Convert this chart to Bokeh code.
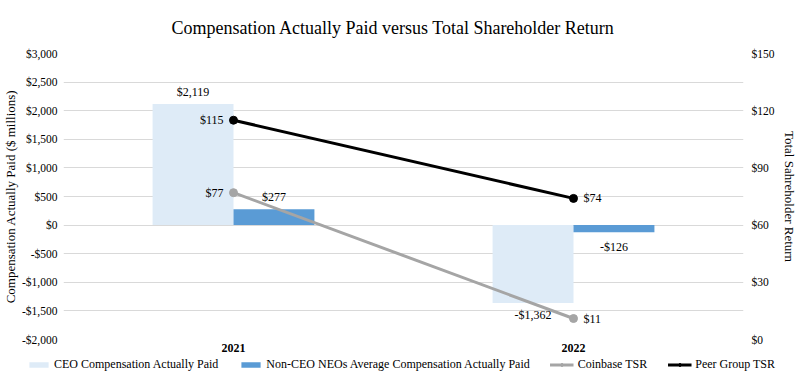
from bokeh.plotting import figure
from bokeh.layouts import column
from bokeh.models import (ColumnDataSource, FactorRange, Range1d, LinearAxis,
                          Legend, LegendItem, FixedTicker)
from bokeh.transform import dodge
from bokeh.core.properties import value
from bokeh.embed import file_html
from bokeh.resources import INLINE

# ---------------- data ----------------
years = ["2021", "2022"]
ceo_cap = [2119, -1362]          # CEO Compensation Actually Paid
neo_cap = [277, -126]            # Non-CEO NEOs Average Compensation Actually Paid
coinbase_tsr = [77, 11]          # Coinbase TSR
peer_tsr = [115, 74]             # Peer Group TSR

left_ticks = list(range(-2000, 3001, 500))
right_ticks = list(range(0, 151, 30))

FONT = "Liberation Serif"
CEO_COLOR = "#DEEBF7"
NEO_COLOR = "#5A9BD5"
CB_COLOR = "#A5A5A5"
PEER_COLOR = "#000000"


def money(v):
    return ("-$" if v < 0 else "$") + f"{abs(v):,}"


src = ColumnDataSource(dict(
    year=years,
    ceo=ceo_cap,
    neo=neo_cap,
    cb=coinbase_tsr,
    peer=peer_tsr,
    ceo_lbl=[money(v) for v in ceo_cap],
    neo_lbl=[money(v) for v in neo_cap],
    cb_lbl=[money(v) for v in coinbase_tsr],
    peer_lbl=[money(v) for v in peer_tsr],
    ceo_base=["bottom" if v >= 0 else "top" for v in ceo_cap],
    neo_base=["bottom" if v >= 0 else "top" for v in neo_cap],
    ceo_off=[-5 if v >= 0 else 5 for v in ceo_cap],
    neo_off=[-5 if v >= 0 else 8 for v in neo_cap],
    pt_align=["right" if i == 0 else "left" for i in range(len(years))],
    pt_off=[-10 if i == 0 else 10 for i in range(len(years))],
))

p = figure(
    width=801, height=357,
    x_range=FactorRange(*years, range_padding=0),
    y_range=Range1d(-2000, 3000),
    output_backend="svg", toolbar_location=None,
    min_border_left=63, min_border_right=58, min_border_top=53, min_border_bottom=18,
)
p.frame_align = False
p.extra_y_ranges = {"tsr": Range1d(0, 150)}

# title
p.title.text = "Compensation Actually Paid versus Total Shareholder Return"
p.title.text_font = FONT
p.title.text_font_size = "18px"
p.title.text_font_style = "normal"
p.title.align = "left"
p.title.offset = 108
p.title.text_color = "#000000"
p.title.standoff = 31

p.outline_line_color = None
p.xgrid.grid_line_color = None
p.ygrid.grid_line_color = "#D9D9D9"
p.ygrid.grid_line_width = 1
p.ygrid.ticker = FixedTicker(ticks=left_ticks)

# left axis
ya = p.yaxis[0]
ya.ticker = FixedTicker(ticks=left_ticks)
ya.major_label_overrides = {t: money(t) for t in left_ticks}
ya.axis_label = "Compensation Actually Paid ($ millions)"

# right axis
ra = LinearAxis(y_range_name="tsr", ticker=FixedTicker(ticks=right_ticks))
ra.major_label_overrides = {t: money(t) for t in right_ticks}
ra.axis_label = "Total Sahreholder Return"
p.add_layout(ra, "right")

for ax in (ya, ra):
    ax.axis_line_color = None
    ax.major_tick_line_color = None
    ax.minor_tick_line_color = None
    ax.major_tick_out = 0
    ax.major_tick_in = 0
    ax.minor_tick_out = 0
    ax.minor_tick_in = 0
    ax.major_label_text_font = FONT
    ax.major_label_text_font_size = "11.5px"
    ax.major_label_text_color = "#000000"
    ax.major_label_standoff = 8
    ax.axis_label_text_font = FONT
    ax.axis_label_text_font_size = "13px"
    ax.axis_label_text_font_style = "normal"
    ax.axis_label_text_color = "#000000"
ya.major_label_standoff = 6
ya.axis_label_standoff = 1
ra.axis_label_standoff = 4

xa = p.xaxis[0]
xa.axis_line_color = None
xa.major_tick_line_color = None
xa.minor_tick_line_color = None
xa.major_tick_out = 0
xa.major_tick_in = 0
xa.major_label_text_font = FONT
xa.major_label_text_font_size = "12px"
xa.major_label_text_font_style = "bold"
xa.major_label_text_color = "#000000"
xa.major_label_standoff = 4

# bars
bw = 0.238
p.vbar(x=dodge("year", -bw / 2, range=p.x_range), top="ceo", bottom=0, width=bw,
       source=src, fill_color=CEO_COLOR, line_color=None)
p.vbar(x=dodge("year", bw / 2, range=p.x_range), top="neo", bottom=0, width=bw,
       source=src, fill_color=NEO_COLOR, line_color=None)

# lines
p.line(x="year", y="cb", source=src, y_range_name="tsr", line_color=CB_COLOR, line_width=3)
p.scatter(x="year", y="cb", source=src, y_range_name="tsr", size=8,
          fill_color=CB_COLOR, line_color=CB_COLOR)
p.line(x="year", y="peer", source=src, y_range_name="tsr", line_color=PEER_COLOR, line_width=3)
p.scatter(x="year", y="peer", source=src, y_range_name="tsr", size=8,
          fill_color=PEER_COLOR, line_color=PEER_COLOR)

# data labels
lbl_kw = dict(text_font=value(FONT), text_font_size="12px", text_color="#000000")
p.text(x=dodge("year", -bw / 2, range=p.x_range), y="ceo", text="ceo_lbl", source=src,
       text_align="center", text_baseline="ceo_base", y_offset="ceo_off", **lbl_kw)
p.text(x=dodge("year", bw / 2, range=p.x_range), y="neo", text="neo_lbl", source=src,
       text_align="center", text_baseline="neo_base", y_offset="neo_off", **lbl_kw)
p.text(x="year", y="cb", text="cb_lbl", source=src, y_range_name="tsr",
       text_align="pt_align", text_baseline="middle", x_offset="pt_off", **lbl_kw)
p.text(x="year", y="peer", text="peer_lbl", source=src, y_range_name="tsr",
       text_align="pt_align", text_baseline="middle", x_offset="pt_off", **lbl_kw)

# ---------------- legend strip (separate figure under the chart) ----------------
lf = figure(
    width=801, height=17, x_range=FactorRange(*years), y_range=Range1d(0, 1),
    x_axis_type=None, y_axis_type=None,
    output_backend="svg", toolbar_location=None,
    min_border_left=0, min_border_right=0, min_border_top=0, min_border_bottom=0,
)
lf.frame_align = False
lf.outline_line_color = None
lf.grid.visible = False

g_ceo = lf.vbar(x="year", top="ceo", width=0.5, source=src, fill_color=CEO_COLOR,
                line_color=None, visible=False)
g_neo = lf.vbar(x="year", top="neo", width=0.5, source=src, fill_color=NEO_COLOR,
                line_color=None, visible=False)
g_cb_l = lf.line(x="year", y="cb", source=src, line_color=CB_COLOR, line_width=3, visible=False)
g_cb_s = lf.scatter(x="year", y="cb", source=src, size=8, fill_color=CB_COLOR,
                    line_color=CB_COLOR, visible=False)
g_pe_l = lf.line(x="year", y="peer", source=src, line_color=PEER_COLOR, line_width=3, visible=False)
g_pe_s = lf.scatter(x="year", y="peer", source=src, size=8, fill_color=PEER_COLOR,
                    line_color=PEER_COLOR, visible=False)

legend = Legend(items=[
    LegendItem(label="CEO Compensation Actually Paid", renderers=[g_ceo]),
    LegendItem(label="Non-CEO NEOs Average Compensation Actually Paid", renderers=[g_neo]),
    LegendItem(label="Coinbase TSR", renderers=[g_cb_l, g_cb_s]),
    LegendItem(label="Peer Group TSR", renderers=[g_pe_l, g_pe_s]),
],
    orientation="horizontal", location="top_center",
    label_text_font=FONT, label_text_font_size="12px", label_text_color="#000000",
    glyph_width=24, glyph_height=7, label_height=14, label_standoff=4,
    spacing=20, padding=0, margin=0, click_policy="none",
    border_line_color=None, background_fill_alpha=0, inactive_fill_alpha=0,
)
lf.add_layout(legend, "center")

layout = column(p, lf, spacing=0)
open("out.html", "w").write(file_html(layout, INLINE))
